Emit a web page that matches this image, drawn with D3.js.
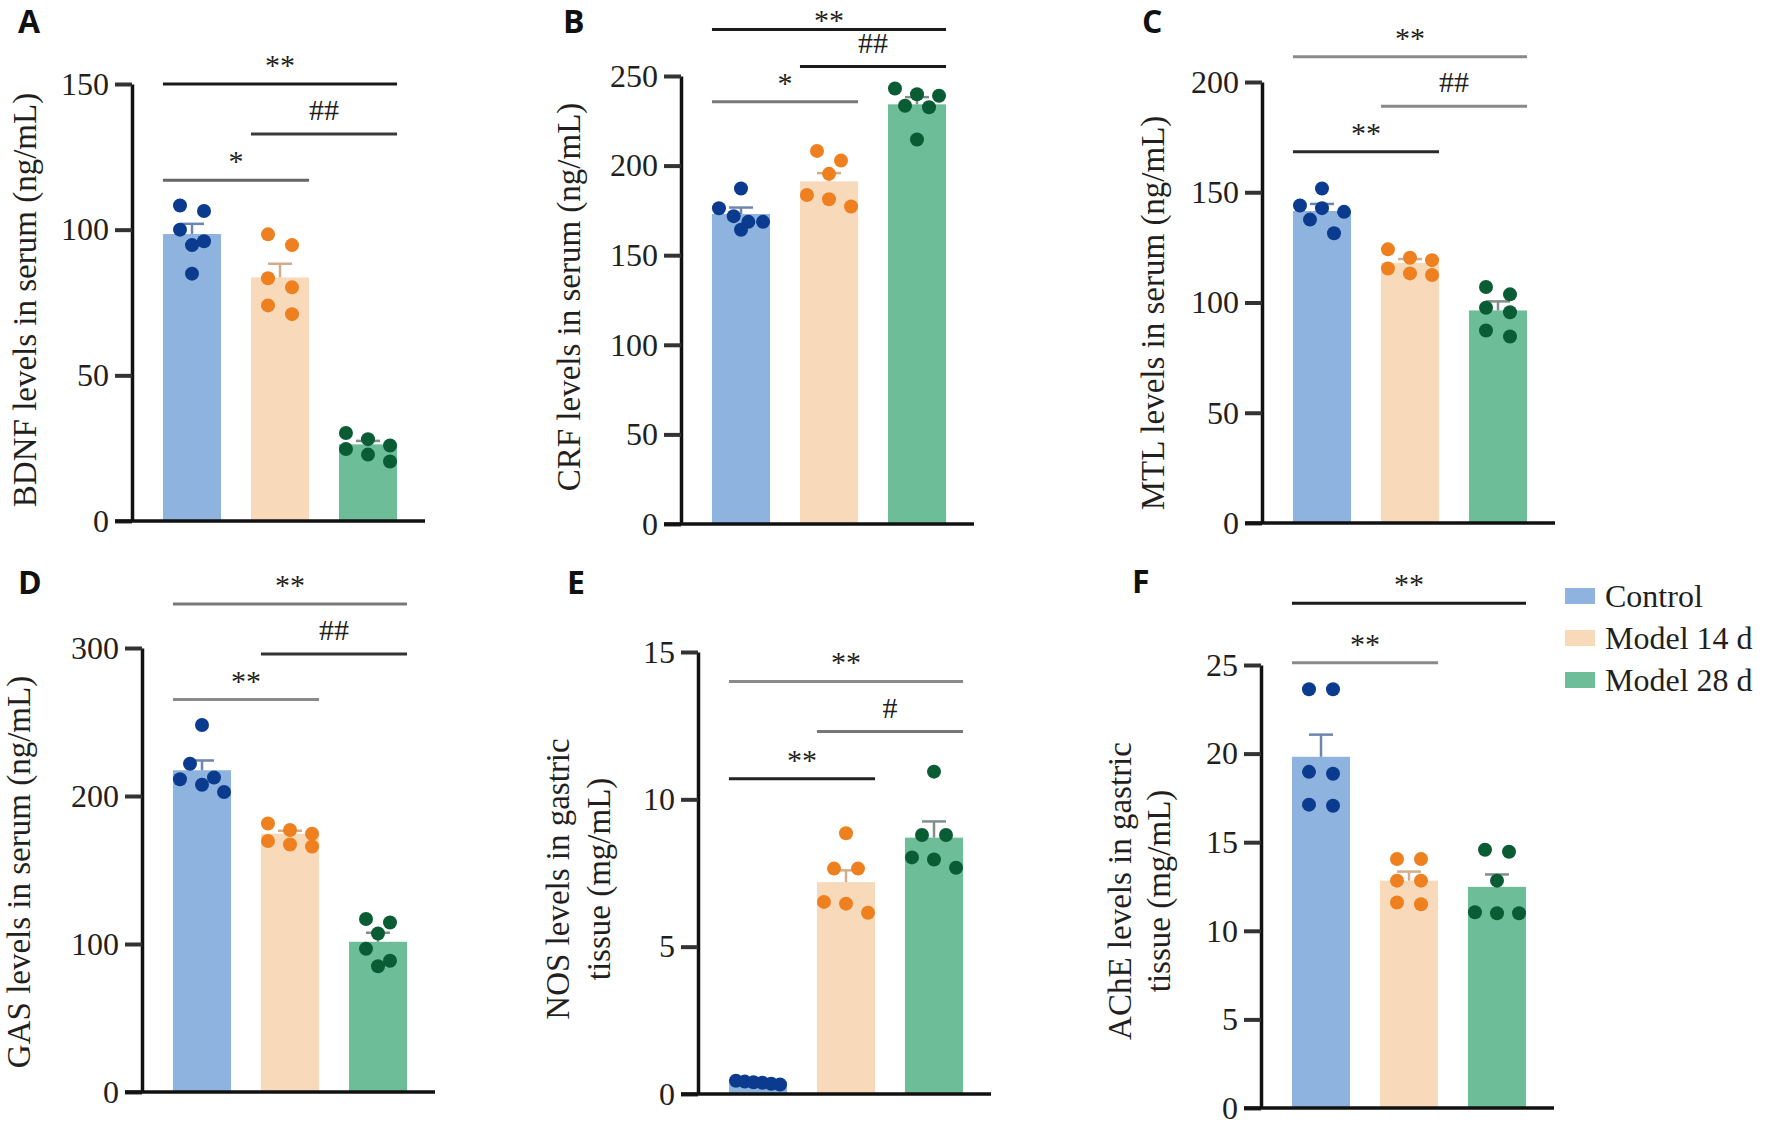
<!DOCTYPE html>
<html lang="en">
<head>
<meta charset="UTF-8" />
<title>Serum and gastric tissue levels</title>
<style>
  body { margin: 0; background: #fff; }
  svg text { font-family: "Liberation Serif", "Times New Roman", serif; fill: #231f20; }
  svg .panelLetter { font-family: "Open Sans", "Liberation Sans", sans-serif; font-weight: 700; fill: #111; }
</style>
</head>
<body>
<svg id="chart" width="1765" height="1125"></svg>
<script src="https://d3js.org/d3.v7.min.js"></script>
<script>
// groups (legend order)
const groups = ["Control", "Model 14 d", "Model 28 d"];

// A - BDNF
const bdnfMean = [98.5, 83.6, 26.3];
const bdnfSem = [3.5, 4.7, 1.2];
const bdnfPoints = [
  [108.3, 106.4, 100, 96, 94.7, 84.9],
  [98.4, 94.7, 83.3, 80.2, 74, 71],
  [30.2, 28.1, 25.9, 24.7, 22.8, 20.4]
];
const bdnfTicks = [0, 50, 100, 150];
const bdnfSig = [
  { from: 0, to: 2, label: "**", at: 150 },
  { from: 1, to: 2, label: "##", at: 132.8 },
  { from: 0, to: 1, label: "*", at: 117 }
];

// B - CRF
const crfMean = [173, 191.2, 234.2];
const crfSem = [3.6, 4.6, 4.0];
const crfPoints = [
  [187.2, 176.2, 171.8, 168.6, 168.6, 164.2],
  [208.2, 202.8, 195.4, 183.6, 181.2, 177.2],
  [243, 239.8, 239, 233.4, 232.6, 214.6]
];
const crfTicks = [0, 50, 100, 150, 200, 250];
const crfSig = [
  { from: 0, to: 2, label: "**", at: 276 },
  { from: 1, to: 2, label: "##", at: 255.3 },
  { from: 0, to: 1, label: "*", at: 235.7 }
];

// C - MTL
const mtlMean = [141.5, 117.9, 96.4];
const mtlSem = [3.2, 1.8, 4.1];
const mtlPoints = [
  [151.7, 144, 142.8, 141.1, 137.6, 131.4],
  [124.1, 120.3, 119.2, 115.4, 113.2, 112.5],
  [107, 103.7, 97.6, 95.6, 87.3, 84.6]
];
const mtlTicks = [0, 50, 100, 150, 200];
const mtlSig = [
  { from: 0, to: 2, label: "**", at: 211.5 },
  { from: 1, to: 2, label: "##", at: 189 },
  { from: 0, to: 1, label: "**", at: 168.4 }
];

// D - GAS
const gasMean = [217.4, 174.5, 101.5];
const gasSem = [6.6, 2.0, 6.1];
const gasPoints = [
  [248, 221.8, 212.5, 211.3, 207.6, 202.7],
  [181.4, 177, 174.5, 169.6, 167.2, 165.9],
  [116.9, 114.5, 107.1, 96.8, 88.7, 85]
];
const gasTicks = [0, 100, 200, 300];
const gasSig = [
  { from: 0, to: 2, label: "**", at: 329.8 },
  { from: 1, to: 2, label: "##", at: 296 },
  { from: 0, to: 1, label: "**", at: 265.2 }
];

// E - NOS
const nosMean = [0.42, 7.19, 8.7];
const nosSem = [0.05, 0.4, 0.55];
const nosPoints = [
  [0.45, 0.42, 0.4, 0.38, 0.35, 0.32],
  [8.85, 7.65, 7.65, 6.52, 6.46, 6.15],
  [10.94, 8.79, 8.79, 8.03, 7.96, 7.68]
];
const nosTicks = [0, 5, 10, 15];
const nosSig = [
  { from: 0, to: 2, label: "**", at: 14.0 },
  { from: 1, to: 2, label: "#", at: 12.3 },
  { from: 0, to: 1, label: "**", at: 10.7 }
];

// F - AChE
const acheMean = [19.82, 12.83, 12.48];
const acheSem = [1.25, 0.51, 0.7];
const achePoints = [
  [23.63, 23.63, 18.97, 18.86, 17.12, 17.06],
  [14.05, 14.05, 12.83, 12.83, 11.6, 11.5],
  [14.57, 14.46, 12.83, 11.05, 10.99, 10.99]
];
const acheTicks = [0, 5, 10, 15, 20, 25];
const acheSig = [
  { from: 0, to: 2, label: "**", at: 28.48 },
  { from: 0, to: 1, label: "**", at: 25.12 }
];

// styles
const barFill = ["#8db3de", "#f8d9ba", "#6dbd98"];
const dotFill = ["#0b3b8f", "#ee8020", "#0a5c35"];
const errInk = ["#6d86ad", "#d2ad8b", "#7f9088"];
const bracketInk = {
  A: ["#1a1a1a", "#3a3a3a", "#666"],
  B: ["#1a1a1a", "#1a1a1a", "#777"],
  C: ["#8a8a8a", "#8a8a8a", "#2a2a2a"],
  D: ["#7a7a7a", "#333", "#8a8a8a"],
  E: ["#8a8a8a", "#777", "#222"],
  F: ["#1a1a1a", "#8a8a8a"]
};
const dotR = 7;

const panels = [
  { id: "A", mean: bdnfMean, sem: bdnfSem, points: bdnfPoints, ticks: bdnfTicks, sig: bdnfSig,
    title: ["BDNF levels in serum (ng/mL)"], axisX: 132, y0: 521, yTop: 84,
    titleX: [36], titleY: 300, letter: [18, 33] },
  { id: "B", mean: crfMean, sem: crfSem, points: crfPoints, ticks: crfTicks, sig: crfSig,
    title: ["CRF levels in serum (ng/mL)"], axisX: 681, y0: 524, yTop: 76,
    titleX: [580], titleY: 297, letter: [563, 33] },
  { id: "C", mean: mtlMean, sem: mtlSem, points: mtlPoints, ticks: mtlTicks, sig: mtlSig,
    title: ["MTL levels in serum (ng/mL)"], axisX: 1262, y0: 523, yTop: 82,
    titleX: [1164], titleY: 313, letter: [1142, 33] },
  { id: "D", mean: gasMean, sem: gasSem, points: gasPoints, ticks: gasTicks, sig: gasSig,
    title: ["GAS levels in serum (ng/mL)"], axisX: 142, y0: 1092, yTop: 648,
    titleX: [30], titleY: 872, letter: [18, 594] },
  { id: "E", mean: nosMean, sem: nosSem, points: nosPoints, ticks: nosTicks, sig: nosSig,
    title: ["NOS levels in gastric", "tissue (mg/mL)"], axisX: 698, y0: 1094, yTop: 652,
    titleX: [569, 610], titleY: 879, letter: [567, 594] },
  { id: "F", mean: acheMean, sem: acheSem, points: achePoints, ticks: acheTicks, sig: acheSig,
    title: ["AChE levels in gastric", "tissue (mg/mL)"], axisX: 1261, y0: 1108, yTop: 665,
    titleX: [1131, 1170], titleY: 891, letter: [1132, 593] }
];

const svg = d3.select("#chart");

// dots of similar height sit side by side in one row
function rowOffsets(values, y, bw) {
  const order = values.map((v, i) => i).sort((a, b) => values[b] - values[a]);
  const rows = [];
  order.forEach(i => {
    const last = rows[rows.length - 1];
    if (last && Math.abs(y(values[i]) - y(values[last[0]])) < dotR * 2) last.push(i);
    else rows.push([i]);
  });
  const off = new Array(values.length);
  rows.forEach(row => {
    const n = row.length;
    const gap = n > 1 ? Math.min(24, (bw - 2 * dotR) / (n - 1)) : 0;
    row.forEach((i, k) => (off[i] = (k - (n - 1) / 2) * gap));
  });
  return off;
}

panels.forEach(p => {
  const g = svg.append("g");

  const x = d3.scaleBand().domain(groups)
    .range([p.axisX + 16, p.axisX + 280])
    .paddingInner(0.34).paddingOuter(0.17);
  const y = d3.scaleLinear().domain([0, d3.max(p.ticks)]).range([p.y0, p.yTop]);
  const bw = x.bandwidth();

  // bars
  g.selectAll(".bar").data(groups).join("rect")
    .attr("x", d => x(d)).attr("width", bw)
    .attr("y", (d, i) => y(p.mean[i]))
    .attr("height", (d, i) => y(0) - y(p.mean[i]))
    .attr("fill", (d, i) => barFill[i]);

  // error bars (mean + SEM)
  groups.forEach((grp, i) => {
    const cx = x(grp) + bw / 2;
    const top = y(p.mean[i] + p.sem[i]);
    g.append("line").attr("x1", cx).attr("x2", cx)
      .attr("y1", y(p.mean[i])).attr("y2", top)
      .attr("stroke", errInk[i]).attr("stroke-width", 2.5);
    g.append("line").attr("x1", cx - 12).attr("x2", cx + 12)
      .attr("y1", top).attr("y2", top)
      .attr("stroke", errInk[i]).attr("stroke-width", 2.5);
  });

  // points
  groups.forEach((grp, i) => {
    const vals = p.points[i];
    const off = rowOffsets(vals, y, bw);
    const cx = x(grp) + bw / 2;
    g.selectAll(null).data(vals).join("circle")
      .attr("cx", (d, k) => cx + off[k])
      .attr("cy", d => y(d))
      .attr("r", dotR)
      .attr("fill", dotFill[i]);
  });

  // y axis
  const ax = g.append("g").attr("transform", `translate(${p.axisX},0)`)
    .call(d3.axisLeft(y).tickValues(p.ticks).tickSize(17).tickSizeOuter(0).tickPadding(6));
  ax.select(".domain").attr("stroke", "#111").attr("stroke-width", 3.5);
  ax.selectAll(".tick line").attr("stroke", "#333").attr("stroke-width", 4);
  ax.selectAll(".tick text")
    .attr("font-family", "Liberation Serif, serif")
    .attr("font-size", 32).attr("fill", "#231f20");

  // x axis baseline
  g.append("line")
    .attr("x1", p.axisX - 17).attr("x2", x.range()[1] + 13)
    .attr("y1", y(0)).attr("y2", y(0))
    .attr("stroke", "#111").attr("stroke-width", 3.5);

  // axis title
  const t = g.append("text")
    .attr("transform", `translate(${p.titleX[0]},${p.titleY}) rotate(-90)`)
    .attr("text-anchor", "middle").attr("font-size", 33);
  p.title.forEach((line, k) => {
    t.append("tspan").attr("x", 0)
      .attr("y", k === 0 ? 0 : p.titleX[k] - p.titleX[0])
      .text(line);
  });

  // significance brackets
  p.sig.forEach((s, k) => {
    const x1 = x(groups[s.from]);
    const x2 = x(groups[s.to]) + bw;
    const ly = y(s.at);
    g.append("line").attr("x1", x1).attr("x2", x2)
      .attr("y1", ly).attr("y2", ly)
      .attr("stroke", bracketInk[p.id][k]).attr("stroke-width", 3);
    const ty = Math.max(ly - (s.label.includes("#") ? 14 : 9), 30);
    g.append("text")
      .attr("x", (x1 + x2) / 2)
      .attr("y", ty)
      .attr("text-anchor", "middle").attr("font-size", 30)
      .text(s.label);
  });

  // panel letter
  g.append("text").attr("class", "panelLetter")
    .attr("x", p.letter[0]).attr("y", p.letter[1])
    .attr("font-size", 32).text(p.id);
});

// legend
const legend = svg.append("g").attr("transform", "translate(1565,596)");
groups.forEach((grp, i) => {
  const row = legend.append("g").attr("transform", `translate(0,${i * 42})`);
  row.append("rect").attr("x", 0).attr("y", -8).attr("width", 30).attr("height", 16)
    .attr("fill", barFill[i]);
  row.append("text").attr("x", 40).attr("y", 11).attr("font-size", 32).text(grp);
});
</script>
</body>
</html>
